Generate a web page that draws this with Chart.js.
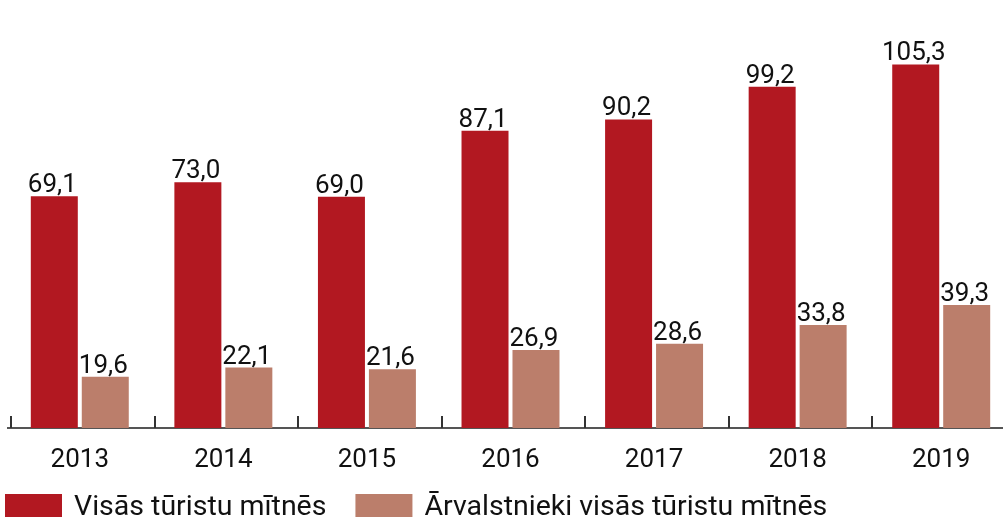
<!DOCTYPE html>
<html>
<head>
<meta charset="utf-8">
<script src="https://cdn.jsdelivr.net/npm/chart.js@4"></script>
<style>
  html, body { margin: 0; padding: 0; overflow: hidden; background: #fff; }
</style>
</head>
<body>
<canvas id="myChart" width="1013" height="530"></canvas>
<script>
// dati
const gadi = ['2013', '2014', '2015', '2016', '2017', '2018', '2019']
const visas = [69.1, 73.0, 69.0, 87.1, 90.2, 99.2, 105.3]
const arvalstnieki = [19.6, 22.1, 21.6, 26.9, 28.6, 33.8, 39.3]
const nosaukumi = ['Visās tūristu mītnēs', 'Ārvalstnieki visās tūristu mītnēs']

const fonts = 'Roboto, "Noto Sans", sans-serif'

function formatet(v) {
    return v.toFixed(1).replace('.', ',')
}

// vērtības virs stabiņiem
const vertibas = {
    id: 'vertibas',
    afterDatasetsDraw(chart) {
        let ctx = chart.ctx
        ctx.save()
        ctx.font = '26px ' + fonts
        ctx.fillStyle = '#111'
        ctx.textAlign = 'center'
        ctx.textBaseline = 'alphabetic'
        chart.data.datasets.forEach((ds, i) => {
            chart.getDatasetMeta(i).data.forEach((bar, j) => {
                ctx.fillText(formatet(ds.data[j]), bar.x - 2, bar.y - 4)
            })
        })
        ctx.restore()
    }
}

// mazās iedaļas uz ass
const iedalas = {
    id: 'iedalas',
    afterDraw(chart) {
        let x = chart.scales.x
        let ctx = chart.ctx
        let solis = x.getPixelForValue(1) - x.getPixelForValue(0)
        ctx.save()
        ctx.strokeStyle = '#333'
        ctx.lineWidth = 2
        for (let i = 0; i <= gadi.length; i++) {
            let px = Math.round(x.getPixelForValue(i) - solis / 2 + 3)
            ctx.beginPath()
            ctx.moveTo(px, x.top - 12)
            ctx.lineTo(px, x.top)
            ctx.stroke()
        }
        ctx.restore()
    }
}

// leģenda apakšā
const legenda = {
    id: 'legenda',
    afterDraw(chart) {
        let ctx = chart.ctx
        ctx.save()
        ctx.font = '28.5px ' + fonts
        ctx.textBaseline = 'alphabetic'
        let px = 5
        chart.data.datasets.forEach((ds) => {
            ctx.fillStyle = ds.backgroundColor
            ctx.fillRect(px, 494, 57, 30)
            ctx.fillStyle = '#111'
            ctx.fillText(ds.label, px + 69, 515)
            px += 69 + ctx.measureText(ds.label).width + 29
        })
        ctx.restore()
    }
}

let ctx = document.getElementById('myChart').getContext('2d')
let chart = new Chart(ctx, {
    type: 'bar',
    data: {
        labels: gadi,
        datasets: [{
            label: nosaukumi[0],
            backgroundColor: '#B21821',
            data: visas
        }, {
            label: nosaukumi[1],
            backgroundColor: '#BB7E6B',
            data: arvalstnieki
        }]
    },
    options: {
        responsive: false,
        animation: false,
        layout: { padding: { left: 8, right: 0, top: 0, bottom: 0 } },
        plugins: {
            legend: { display: false },
            tooltip: { enabled: false }
        },
        datasets: {
            bar: { categoryPercentage: 0.71, barPercentage: 0.922 }
        },
        scales: {
            x: {
                grid: { display: false, drawTicks: false },
                border: { display: true, color: '#555', width: 2 },
                ticks: {
                    color: '#111',
                    padding: 17,
                    font: { family: fonts, size: 26 }
                },
                afterFit(scale) { scale.height = 102 }
            },
            y: {
                display: false,
                min: 5.5,
                max: 123
            }
        }
    },
    plugins: [vertibas, iedalas, legenda]
})
</script>
</body>
</html>
